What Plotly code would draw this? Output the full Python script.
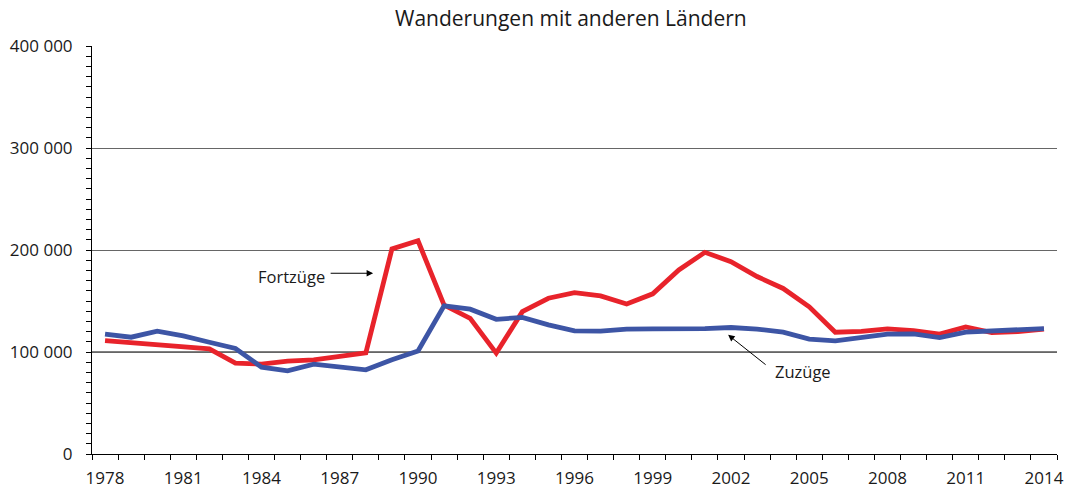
import plotly.graph_objects as go

years = list(range(1978, 2015))

zuzuege = [117500, 114500, 120500, 115800, 109600, 103500, 85200, 81500, 88100, 85800,
           82500, 92300, 101000, 145200, 142000, 132000, 134000, 126600, 120700, 120400,
           122400, 122700, 122300, 123000, 124000, 122400, 119500, 112600, 111000, 114500,
           117500, 117800, 114200, 119500, 120300, 121300, 123000]

fortzuege = [111200, 109000, 107700, 104700, 103000, 89000, 88100, 91000, 92300, 95600,
             99200, 201000, 209000, 146000, 133000, 98900, 139600, 152700, 158200, 155000,
             147100, 157000, 180400, 197700, 188600, 174000, 162300, 144300, 119400, 120200,
             122700, 121000, 117500, 124500, 119000, 120000, 122400]

x_tick_years = list(range(1978, 2015, 3))
y_ticks = [0, 100000, 200000, 300000, 400000]
y_tick_text = ["0", "100 000", "200 000", "300 000", "400 000"]

title_text = "Wanderungen mit anderen Ländern"
label_fort = "Fortzüge"
label_zu = "Zuzüge"

RED = "#e8232b"
BLUE = "#3d55a5"
FONT = "Open Sans"
TXT = "#1a1a1a"

fig = go.Figure()
fig.add_trace(go.Scatter(x=years, y=fortzuege, mode="lines", name=label_fort,
                         line=dict(color=RED, width=4.8)))
fig.add_trace(go.Scatter(x=years, y=zuzuege, mode="lines", name=label_zu,
                         line=dict(color=BLUE, width=4.8)))

fig.add_hline(y=100000, line=dict(color="#000000", width=1), layer="below")

fig.update_layout(
    width=1067, height=490, autosize=False,
    margin=dict(l=92, r=10, t=46, b=36),
    paper_bgcolor="white", plot_bgcolor="white",
    showlegend=False,
    font=dict(family=FONT, size=17, color=TXT),
    title=dict(text=title_text, x=0.535, xanchor="center", y=0.962, yanchor="middle",
               font=dict(family=FONT, size=21, color=TXT), automargin=False),
)

fig.update_xaxes(
    range=[1977.5, 2014.5], automargin=False,
    tickmode="array", tickvals=x_tick_years, ticktext=[str(y) for y in x_tick_years],
    ticks="", showgrid=False, zeroline=False,
    showline=True, linecolor="#000000", linewidth=1,
    tickfont=dict(family=FONT, size=17, color=TXT),
    ticklabelstandoff=9,
    minor=dict(ticks="outside", ticklen=5, tickcolor="#000000", tickwidth=1,
               tickmode="linear", tick0=1977.5, dtick=1, showgrid=False),
)

fig.update_yaxes(
    range=[0, 400000], automargin=False,
    tickmode="array", tickvals=y_ticks, ticktext=y_tick_text,
    ticks="outside", ticklen=5, tickcolor="#000000", tickwidth=1,
    showgrid=True, gridcolor="#666666", gridwidth=1, zeroline=False,
    showline=True, linecolor="#000000", linewidth=1,
    tickfont=dict(family=FONT, size=17, color=TXT),
    ticklabelstandoff=10,
    minor=dict(ticks="outside", ticklen=5, tickcolor="#000000", tickwidth=1,
               tickmode="linear", tick0=0, dtick=10000, showgrid=False),
)

# Annotations: labels and arrows
fig.add_annotation(x=1985.13, y=173600, xref="x", yref="y", text=label_fort,
                   showarrow=False, font=dict(family=FONT, size=16.5, color=TXT))
fig.add_annotation(x=1988.28, y=177200, xref="x", yref="y", text="",
                   showarrow=True, ax=-44, ay=0, arrowhead=2, arrowsize=1.3,
                   arrowwidth=1, arrowcolor="#000000")
fig.add_annotation(x=2004.76, y=80600, xref="x", yref="y", text=label_zu,
                   showarrow=False, font=dict(family=FONT, size=16.5, color=TXT))
fig.add_annotation(x=2001.89, y=116800, xref="x", yref="y", text="",
                   showarrow=True, ax=39, ay=31, arrowhead=2, arrowsize=1.3,
                   arrowwidth=1, arrowcolor="#000000")

fig.write_html("out.html",
               config={"displayModeBar": False, "responsive": False},
               post_script="document.body.style.margin='0';document.body.style.overflow='hidden';")
